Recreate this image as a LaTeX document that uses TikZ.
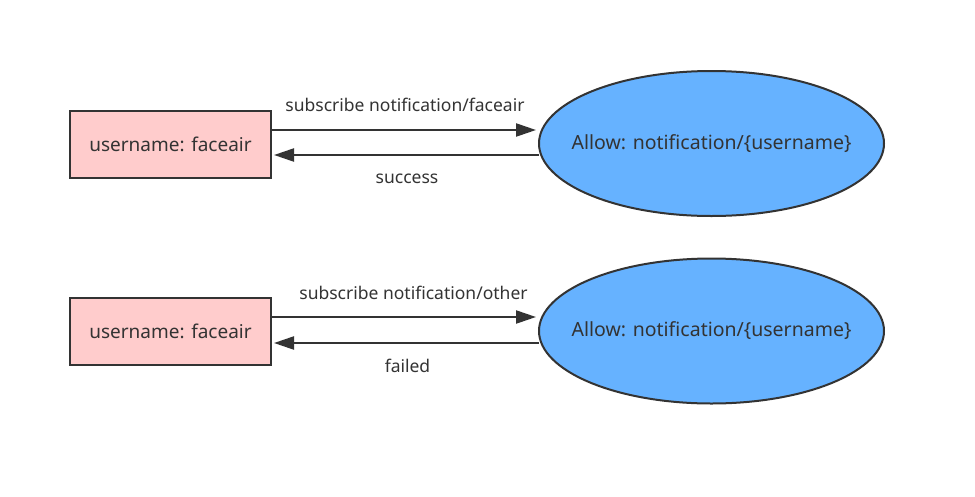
\documentclass[tikz,border=0pt]{standalone}
\usepackage{fontspec}
\setmainfont{Noto Sans}
\usetikzlibrary{shapes.geometric,arrows.meta}
\definecolor{boxpink}{HTML}{FFCCCC}
\definecolor{ellblue}{HTML}{66B2FF}
\definecolor{linegray}{HTML}{333333}
\begin{document}
\begin{tikzpicture}[x=1pt,y=-1pt,
  userbox/.style={draw=linegray,line width=2pt,fill=boxpink,minimum width=201pt,minimum height=67pt,inner sep=0pt,font=\fontsize{19}{22}\selectfont,text=black!80},
  allowell/.style={ellipse,draw=linegray,line width=2pt,fill=ellblue,minimum width=345pt,minimum height=145pt,inner sep=0pt},
  elltext/.style={font=\fontsize{19.5}{22}\selectfont,text=black!80},
  conn/.style={draw=linegray,line width=2.2pt,-{Triangle[length=20pt,width=13pt]}},
  lbl/.style={font=\fontsize{17.5}{20}\selectfont,text=black!80}]
\useasboundingbox (0,0) rectangle (975,496);
\fill[white] (0,0) rectangle (975,496);
% top row
\node[userbox] (u1) at (170.5,144.5) {username: faceair};
\node[allowell,label={[elltext]center:Allow: notification/\{username\}}] (a1) at (711.5,143.5) {};
\coordinate (u1o) at (271,130);
\coordinate (a1i) at (536,130);
\coordinate (a1o) at (539,155);
\coordinate (u1i) at (274,155);
\draw[conn] (u1o) -- (a1i);
\draw[conn] (a1o) -- (u1i);
\node[lbl] (l1) at (405,105) {subscribe notification/faceair};
\node[lbl] (l2) at (407,179) {success};
% bottom row
\node[userbox] (u2) at (170.5,331.5) {username: faceair};
\node[allowell,label={[elltext]center:Allow: notification/\{username\}}] (a2) at (711.5,331) {};
\coordinate (u2o) at (271,317);
\coordinate (a2i) at (536,317);
\coordinate (a2o) at (539,343);
\coordinate (u2i) at (274,343);
\draw[conn] (u2o) -- (a2i);
\draw[conn] (a2o) -- (u2i);
\node[lbl] (l3) at (413.5,293) {subscribe notification/other};
\node[lbl] (l4) at (407.5,366) {failed};
\end{tikzpicture}
\end{document}
